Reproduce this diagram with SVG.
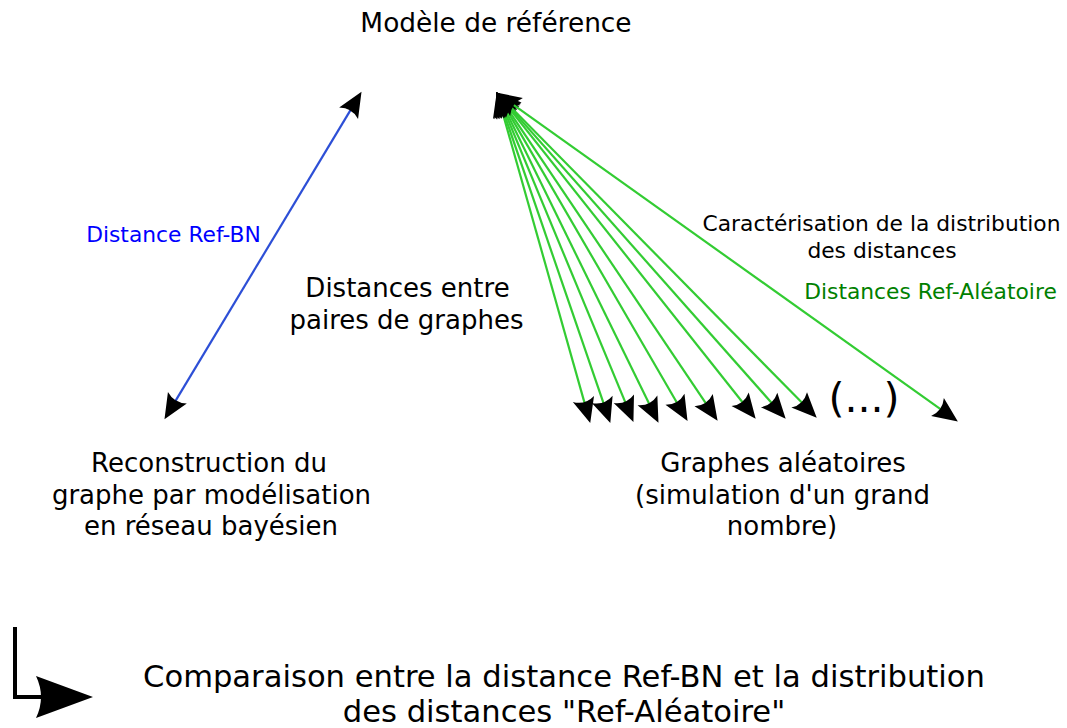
<svg xmlns="http://www.w3.org/2000/svg" width="1067" height="728" viewBox="0 0 1067 728">
  <style>
    text { font-family: "DejaVu Sans", "Liberation Sans", sans-serif; fill: #000; }
    .big { font-size: 26px; text-anchor: middle; }
    .small { font-size: 21.8px; text-anchor: middle; }
    .blue { fill: #0000ff; }
    .green { fill: #008000; }
    .gl { fill: none; stroke: #33cc33; stroke-width: 2.2; marker-start: url(#ah); marker-end: url(#ah); }
    .bl { fill: none; stroke: #2d4fd6; stroke-width: 2.2; marker-start: url(#ah); marker-end: url(#ah); }
  </style>
  <defs>
    <marker id="ah" markerUnits="userSpaceOnUse" orient="auto-start-reverse" overflow="visible" refX="0" refY="0" markerWidth="1" markerHeight="1">
      <path d="M17,0 L-8,-11 Q-1.5,0 -8,11 Z" fill="#000"/>
    </marker>
  </defs>

  <rect width="1067" height="728" fill="#fff"/>

  <!-- nodes -->
  <g id="ref-model">
    <text class="big" x="496" y="31.5" style="font-size:26.4px">Modèle de référence</text>
  </g>

  <g id="bn-reconstruction">
    <text class="big" x="209" y="472">Reconstruction du</text>
    <text class="big" x="211.5" y="504">graphe par modélisation</text>
    <text class="big" x="211" y="535">en réseau bayésien</text>
  </g>

  <g id="random-graphs">
    <text class="big" x="783" y="472">Graphes aléatoires</text>
    <text class="big" x="782.5" y="503.5">(simulation d'un grand</text>
    <text class="big" x="782" y="535">nombre)</text>
    <text x="864" y="412" font-size="41" text-anchor="middle">(...)</text>
  </g>

  <g id="pair-distances">
    <text class="big" x="407.5" y="297">Distances entre</text>
    <text class="big" x="406.5" y="328.5">paires de graphes</text>
  </g>

  <g id="distribution-label">
    <text class="small" x="881.5" y="231">Caractérisation de la distribution</text>
    <text class="small" x="882" y="258">des distances</text>
    <text class="small green" x="930.5" y="298.5">Distances Ref-Aléatoire</text>
  </g>

  <g id="refbn-label">
    <text class="small blue" x="173.5" y="241.5">Distance Ref-BN</text>
  </g>

  <g id="comparison">
    <text x="564" y="687" font-size="30.6" text-anchor="middle">Comparaison entre la distance Ref-BN et la distribution</text>
    <text x="564" y="722" font-size="30.6" text-anchor="middle">des distances "Ref-Aléatoire"</text>
  </g>

  <!-- connectors -->
  <g id="connectors">
    <path class="bl" d="M352.75,106.4 L173.25,404.6"/>
    <path class="gl" d="M501.4,108.4 L585.6,406.6"/>
    <path class="gl" d="M502.2,108.1 L604.8,406.9"/>
    <path class="gl" d="M503.1,107.8 L626.9,406.2"/>
    <path class="gl" d="M504.0,107.4 L651.0,407.6"/>
    <path class="gl" d="M505.0,106.8 L679.0,406.2"/>
    <path class="gl" d="M505.9,106.3 L708.1,406.7"/>
    <path class="gl" d="M507.0,105.5 L745.1,405.5"/>
    <path class="gl" d="M507.6,105.0 L774.4,406.0"/>
    <path class="gl" d="M508.2,104.4 L804.8,405.6"/>
    <path class="gl" d="M510.0,102.3 L944.0,411.7"/>
    <!-- bent "result" arrow -->
    <path d="M15,627 L15,697 L44,697" fill="none" stroke="#000" stroke-width="4"/>
    <path d="M93,697 L36,676 Q46,697 36,718 Z" fill="#000"/>
  </g>
</svg>
